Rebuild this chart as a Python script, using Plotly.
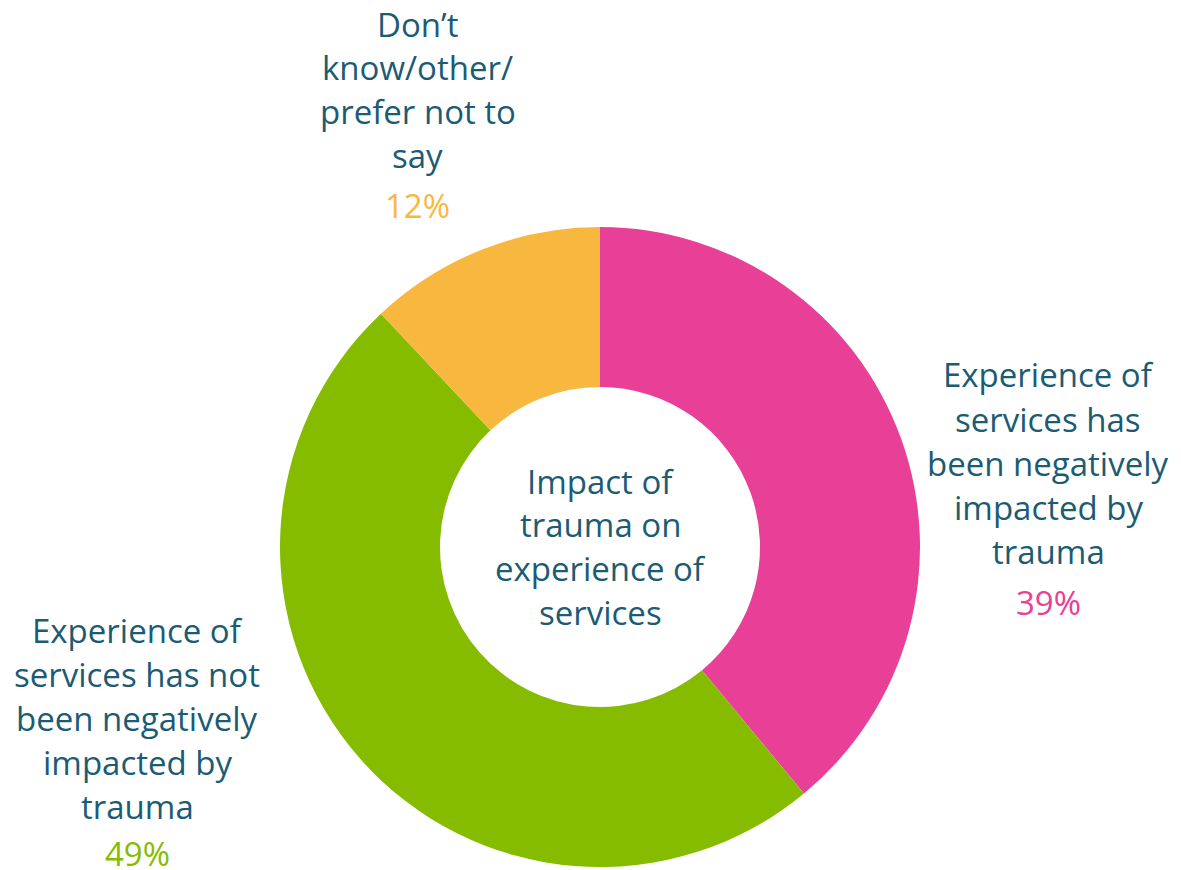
import plotly.graph_objects as go

categories = [
    "Experience of services has been negatively impacted by trauma",
    "Experience of services has not been negatively impacted by trauma",
    "Don’t know/other/prefer not to say",
]
values = [39, 49, 12]
colors = ["#E94097", "#86BC00", "#F8B83F"]
label_lines = [
    ["Experience of", "services has", "been negatively", "impacted by", "trauma"],
    ["Experience of", "services has not", "been negatively", "impacted by", "trauma"],
    ["Don’t", "know/other/", "prefer not to", "say"],
]
center_lines = ["Impact of", "trauma on", "experience of", "services"]

W, H = 1181, 870
OFF = 8  # page body margin
TEXT = "#1B5B74"
FONT = "Open Sans"
FS = 33


def px(x):
    return (x - OFF) / W


def py(y):
    return 1 - (y - OFF) / H


fig = go.Figure(go.Pie(
    labels=categories, values=values, sort=False, direction="clockwise",
    rotation=0, hole=0.5, marker=dict(colors=colors, line=dict(width=0)),
    textinfo="none", hoverinfo="label+percent", showlegend=False,
    domain=dict(x=[px(280), px(920)], y=[py(867), py(227)]),
))

blocks = [(1048, 375, 44.2, 6), (137, 630, 44.0, 3), (418, 24, 43.8, 6)]
ann = []
for (cx, y0, step, gap), lines, v, c in zip(blocks, label_lines, values, colors):
    for i, ln in enumerate(lines):
        ann.append(dict(x=px(cx), y=py(y0 + i * step), text=ln))
    ann.append(dict(x=px(cx), y=py(y0 + len(lines) * step + gap),
                    text=f"{v}%", font=dict(color=c, size=FS, family=FONT)))
for i, ln in enumerate(center_lines):
    ann.append(dict(x=px(600), y=py(481 + i * 43.7), text=ln))

for a in ann:
    a.update(xref="paper", yref="paper", xanchor="center", yanchor="middle",
             showarrow=False)
    a.setdefault("font", dict(color=TEXT, size=FS, family=FONT))

fig.update_layout(
    width=W, height=H, margin=dict(l=0, r=0, t=0, b=0),
    paper_bgcolor="white", plot_bgcolor="white", annotations=ann,
    font=dict(family=FONT, color=TEXT, size=FS),
)
fig.write_html("out.html")
